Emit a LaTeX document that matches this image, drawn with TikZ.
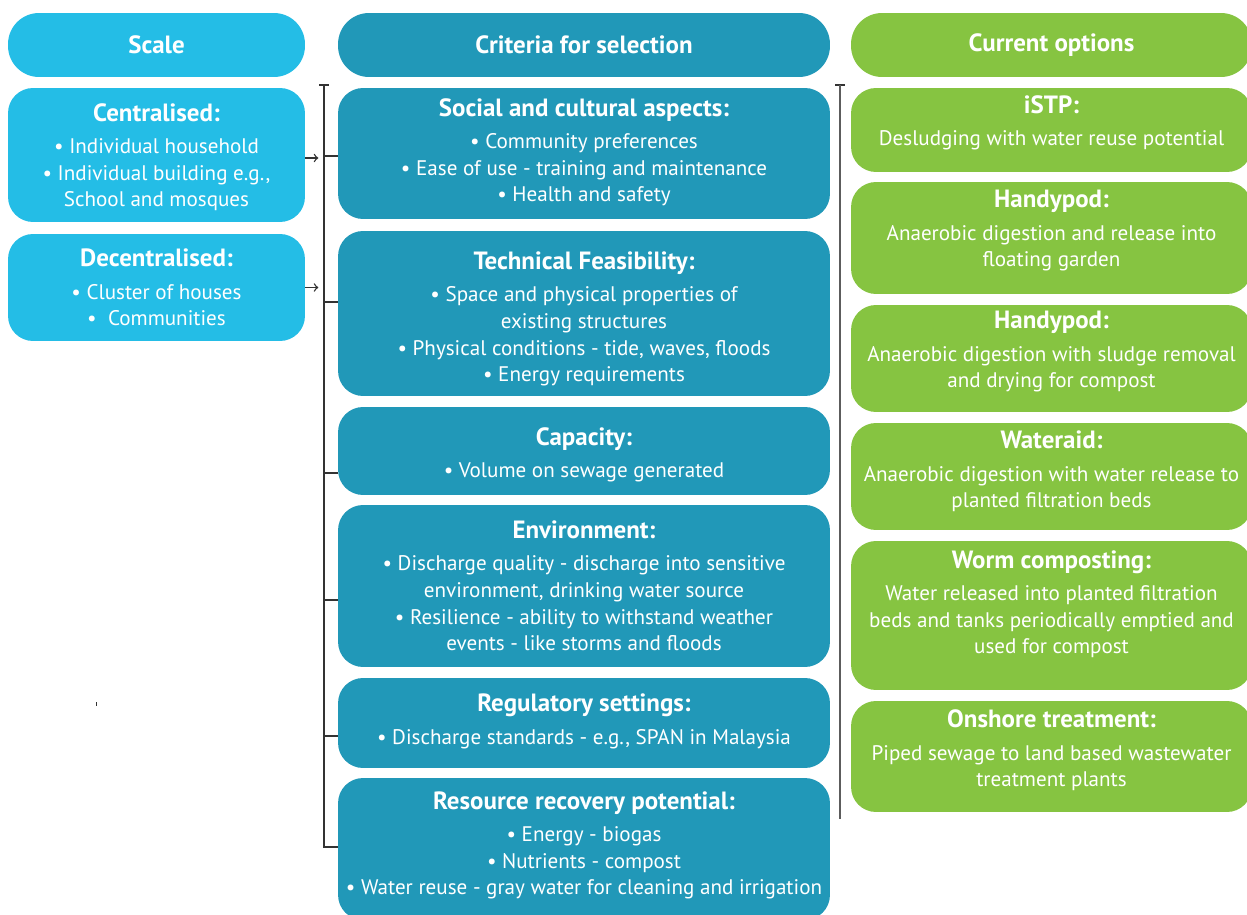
\documentclass[tikz,border=0pt]{standalone}
\usepackage{fontspec}
\setmainfont{PT Sans}
\usepackage{tikz}

\definecolor{scalecol}{HTML}{24BDE6}
\definecolor{critcol}{HTML}{2198B8}
\definecolor{optcol}{HTML}{86C441}
\definecolor{linecol}{HTML}{333333}

\tikzset{
 box/.style={rounded corners=0.5cm, text=white, align=center, inner sep=0pt,
   font=\fontsize{12}{15.3}\selectfont},
 scalebox/.style={box, fill=scalecol, minimum width=5.94cm},
 critbox/.style={box, fill=critcol, minimum width=9.84cm},
 optbox/.style={box, fill=optcol, minimum width=8.02cm},
 headbox/.style={font=\fontsize{14.2}{17}\selectfont\bfseries, minimum height=1.28cm,
   rounded corners=0.62cm},
 bracket/.style={linecol, line width=1.1pt},
}
\newcommand{\boxtitle}[1]{{\fontsize{14.2}{17}\selectfont\bfseries #1}\\[3pt]}

\begin{document}
\begin{tikzpicture}[x=0.02cm, y=-0.02cm]
%\draw[help lines] (0,0) grid[step=50] (1247,915);
\useasboundingbox (0,0) rectangle (1247,915);
\clip (0,0) rectangle (1247,915);

% scale column
\node[scalebox, headbox] (scale) at (156.5,45) {Scale};
\node[scalebox, text height=2.38cm, text depth=0.30cm] (cent) at (156.5,155)
 {\boxtitle{Centralised:}• Individual household\\• Individual building e.g.,\\School and mosques};
\node[scalebox, text height=1.84cm, text depth=0.30cm] (decent) at (156.5,287.5)
 {\boxtitle{Decentralised:}• Cluster of houses\\• \ Communities};

% criteria column
\node[critbox, headbox] (crit) at (584,45) {Criteria for selection};
\node[critbox, text height=2.28cm, text depth=0.34cm] (social) at (584,153.5)
 {\boxtitle{Social and cultural aspects:}• Community preferences\\• Ease of use - training and maintenance\\• Health and safety};
\node[critbox, text height=3.02cm, text depth=0.28cm] (tech) at (584,313.5)
 {\boxtitle{Technical Feasibility:}• Space and physical properties of\\existing structures\\• Physical conditions - tide, waves, floods\\• Energy requirements};
\node[critbox, text height=1.42cm, text depth=0.34cm] (capacity) at (584,451)
 {\boxtitle{Capacity:}• Volume on sewage generated};
\node[critbox, text height=2.92cm, text depth=0.32cm] (env) at (584,586)
 {\boxtitle{Environment:}• Discharge quality - discharge into sensitive\\environment, drinking water source\\• Resilience - ability to withstand weather\\events - like storms and floods};
\node[critbox, text height=1.32cm, text depth=0.48cm] (reg) at (584,723)
 {\boxtitle{Regulatory settings:}• Discharge standards - e.g., SPAN in Malaysia};
\node[critbox, text height=2.34cm, text depth=0.50cm] (resource) at (584,849)
 {\boxtitle{Resource recovery potential:}• Energy - biogas\\• Nutrients - compost\\• Water reuse - gray water for cleaning and irrigation};

% options column
\node[optbox, headbox] (opt) at (1051.5,45) {Current options};
\node[optbox, text height=1.16cm, text depth=0.52cm] (istp) at (1051.5,130)
 {\boxtitle{iSTP:}Desludging with water reuse potential};
\node[optbox, text height=1.70cm, text depth=0.54cm] (handyA) at (1051.5,238)
 {\boxtitle{Handypod:}Anaerobic digestion and release into\\floating garden};
\node[optbox, text height=1.66cm, text depth=0.48cm] (handyB) at (1051.5,358.5)
 {\boxtitle{Handypod:}Anaerobic digestion with sludge removal\\and drying for compost};
\node[optbox, text height=1.70cm, text depth=0.44cm] (wateraid) at (1051.5,476.5)
 {\boxtitle{Wateraid:}Anaerobic digestion with water release to\\planted filtration beds};
\node[optbox, text height=2.26cm, text depth=0.72cm] (worm) at (1051.5,615.5)
 {\boxtitle{Worm composting:}Water released into planted filtration\\beds and tanks periodically emptied and\\used for compost};
\node[optbox, text height=1.72cm, text depth=0.50cm] (onshore) at (1051.5,756.5)
 {\boxtitle{Onshore treatment:}Piped sewage to land based wastewater\\treatment plants};

% bracket in front of the criteria
\coordinate (ltop) at (324,85);
\coordinate (lbot) at (324,847);
\draw[bracket] ([xshift=-0.1cm]ltop) -- ([xshift=0.1cm]ltop);
\draw[bracket] (ltop) -- (lbot) -- (lbot -| resource.west);
\draw[bracket] ([yshift=-0.05cm]social.west) -- ([yshift=-0.05cm]social.west -| ltop);
\draw[bracket] ([yshift=0.23cm]tech.west) -- ([yshift=0.23cm]tech.west -| ltop);
\draw[bracket] ([yshift=-0.44cm]capacity.west) -- ([yshift=-0.44cm]capacity.west -| ltop);
\draw[bracket] ([yshift=-0.28cm]env.west) -- ([yshift=-0.28cm]env.west -| ltop);
\draw[bracket] ([yshift=-0.26cm]reg.west) -- ([yshift=-0.26cm]reg.west -| ltop);

% scale to criteria
\draw[linecol, line width=0.8pt, ->] ([yshift=-0.06cm]cent.east) -- ++(13,0);
\draw[linecol, line width=0.8pt, ->] (decent.east) -- ++(13,0);

% bracket in front of the options
\coordinate (rtop) at (840,85);
\coordinate (rbot) at (840,819);
\draw[bracket] ([xshift=-0.1cm]rtop) -- ([xshift=0.1cm]rtop);
\draw[bracket, linecol!80] (rtop) -- (rbot);

\draw[linecol, line width=0.5pt] (96,702) -- (96,706);

\end{tikzpicture}
\end{document}
